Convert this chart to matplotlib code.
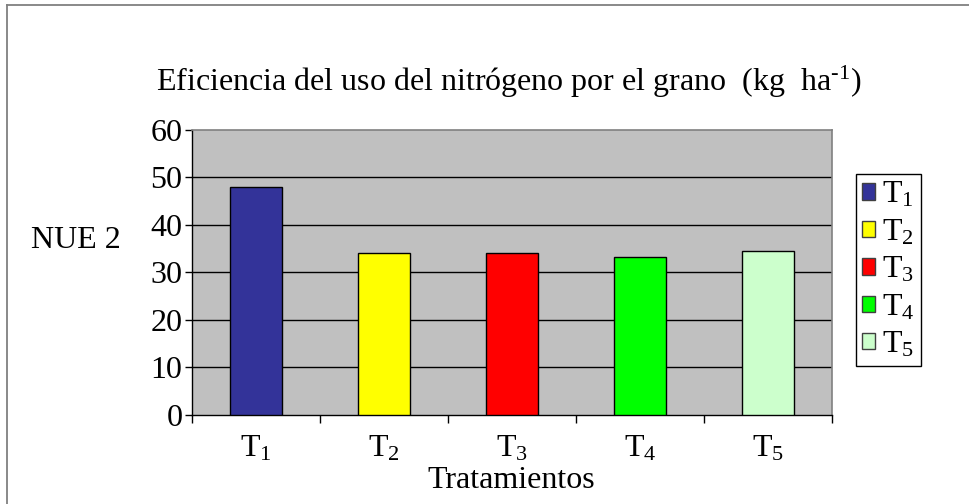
import matplotlib
matplotlib.use('Agg')
import matplotlib.pyplot as plt
from matplotlib.patches import Patch
from matplotlib.lines import Line2D

categories = ['T$_1$', 'T$_2$', 'T$_3$', 'T$_4$', 'T$_5$']
values = [48.0, 34.0, 34.0, 33.2, 34.4]
colors = ['#333399', '#FFFF00', '#FF0000', '#00FF00', '#CCFFCC']
yticks = [0, 10, 20, 30, 40, 50, 60]
title = 'Eficiencia del uso del nitrógeno por el grano  (kg  ha$^{\\text{-1}}$)'
ylabel = 'NUE 2'
xlabel = 'Tratamientos'

plt.rcParams['font.family'] = ['Liberation Serif', 'DejaVu Serif']
plt.rcParams['mathtext.fontset'] = 'custom'
plt.rcParams['mathtext.rm'] = 'Liberation Serif'
plt.rcParams['mathtext.it'] = 'Liberation Serif:italic'
plt.rcParams['mathtext.default'] = 'regular'

FS = 23
W, H = 970, 504
fig = plt.figure(figsize=(W / 100, H / 100), dpi=100)

# outer frame (top & left visible)
fig.add_artist(Line2D([7 / W, 7 / W], [0, 1 - 5 / H], color='#808080', lw=1.3, transform=fig.transFigure))
fig.add_artist(Line2D([7 / W, 1], [1 - 5 / H, 1 - 5 / H], color='#808080', lw=1.3, transform=fig.transFigure))

ax = fig.add_axes([192 / W, 1 - 415 / H, 640 / W, (415 - 129.7) / H])
ax.set_facecolor('#C0C0C0')
x = list(range(len(categories)))
ax.bar(x, values, width=0.4, color=colors, edgecolor='black', linewidth=1, zorder=3)
ax.set_xlim(-0.5, len(categories) - 0.5)
ax.set_ylim(0, 60)
ax.set_yticks(yticks)
ax.set_yticklabels([str(v) for v in yticks], fontsize=FS)
for v in yticks[1:-1]:
    ax.axhline(v, color='black', lw=1, zorder=1)

ax.set_xticks([i - 0.5 for i in range(len(categories) + 1)])
ax.set_xticklabels([])
ax.set_xticks(x, minor=True)
ax.set_xticklabels(categories, minor=True, fontsize=FS)
ax.tick_params(axis='x', which='major', direction='out', length=6, width=1, color='black')
ax.tick_params(axis='x', which='minor', length=0, pad=14)
ax.tick_params(axis='y', direction='out', length=5, width=1, pad=2)

for s in ['top', 'right']:
    ax.spines[s].set_color('#808080')
    ax.spines[s].set_linewidth(1.2)
for s in ['left', 'bottom']:
    ax.spines[s].set_color('black')
    ax.spines[s].set_linewidth(1)

fig.text(509 / W, 1 - 82 / H, title, ha='center', va='center', fontsize=FS)
fig.text(76 / W, 1 - 240 / H, ylabel, ha='center', va='center', fontsize=FS)
fig.text(511 / W, 1 - 481 / H, xlabel, ha='center', va='center', fontsize=FS)

handles = [Patch(facecolor=c, edgecolor='#404040', linewidth=1) for c in colors]
leg = fig.legend(handles, categories, loc='upper left', bbox_to_anchor=(856 / W, 1 - 174 / H),
                 fontsize=FS, frameon=True, fancybox=False, edgecolor='black', framealpha=1,
                 handlelength=0.4, handleheight=0.4, handletextpad=0.2, labelspacing=0.25,
                 borderpad=0.2, borderaxespad=0)
leg.get_frame().set_linewidth(1)

fig.savefig('out.png', dpi=100, facecolor='white')
